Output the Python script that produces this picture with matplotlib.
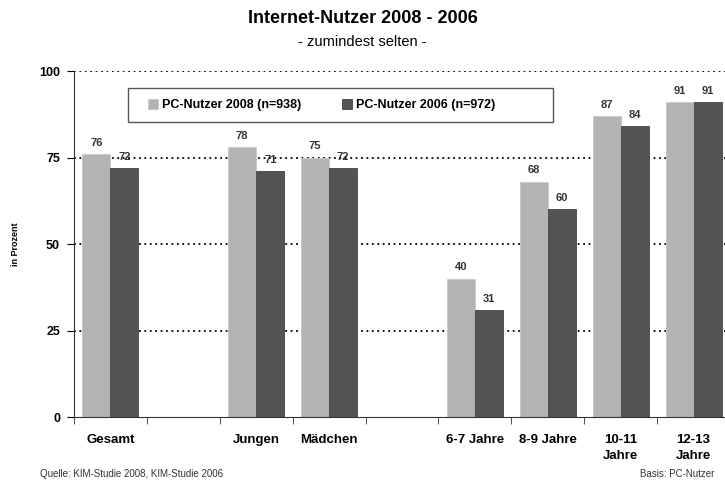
import numpy as np
import matplotlib.pyplot as plt
from matplotlib.patches import Rectangle

plt.rcParams['font.family'] = ['Liberation Sans Narrow', 'Liberation Sans', 'DejaVu Sans']

# leere Einträge = Lücken zwischen den Gruppen
categories = ['Gesamt', '', 'Jungen', 'Mädchen', '', '6-7 Jahre', '8-9 Jahre', '10-11\nJahre', '12-13\nJahre']
nutzer_2008 = [76, np.nan, 78, 75, np.nan, 40, 68, 87, 91]
nutzer_2006 = [72, np.nan, 71, 72, np.nan, 31, 60, 84, 91]
series_labels = ['PC-Nutzer 2008 (n=938)', 'PC-Nutzer 2006 (n=972)']
colors = ['#b3b3b3', '#545454']

fig = plt.figure(figsize=(7.25, 4.83), dpi=100)
ax = fig.add_axes([0.102, 0.1366, 0.905, 0.7164])

x = np.arange(len(categories)) + 0.5
w = 0.385
b1 = ax.bar(x - w / 2, nutzer_2008, w, color=colors[0], edgecolor='#c8c8c8', linewidth=0.6, zorder=2)
b2 = ax.bar(x + w / 2, nutzer_2006, w, color=colors[1], edgecolor='#444444', linewidth=0.6, zorder=2)

for bars, vals in [(b1, nutzer_2008), (b2, nutzer_2006)]:
    for rect, v in zip(bars, vals):
        if np.isnan(v):
            continue
        ax.text(rect.get_x() + rect.get_width() / 2, v + 1.8, str(int(v)),
                ha='center', va='bottom', fontsize=8, fontweight='bold', color='#333333', zorder=3)

ax.set_xlim(0, len(categories))
ax.set_ylim(0, 100)
ax.set_yticks([0, 25, 50, 75, 100])
ax.yaxis.grid(True, linestyle=(0, (1, 2)), color='black', linewidth=1.3, zorder=0)
ax.yaxis.get_gridlines()[0].set_visible(False)
ax.set_axisbelow(True)

ax.set_xticks(x)
ax.set_xticklabels(categories, fontsize=9.5, fontweight='bold', linespacing=1.5)
ax.tick_params(axis='x', length=0, pad=12)
ax.set_xticks(np.arange(len(categories) + 1), minor=True)
ax.tick_params(axis='x', which='minor', length=5, direction='out', color='#333333')
ax.tick_params(axis='y', length=5, labelsize=9, pad=5)
for lab in ax.get_yticklabels():
    lab.set_fontweight('bold')

for s in ['top', 'right']:
    ax.spines[s].set_visible(False)
ax.spines['left'].set_color('#333333')
ax.spines['bottom'].set_color('#333333')
ax.spines['bottom'].set_zorder(4)

ax.set_ylabel('in Prozent', fontsize=6.5, fontweight='bold', labelpad=14)

# Legendenrahmen separat, damit er breiter als der Inhalt sein kann
fig.patches.append(Rectangle((0.1766, 0.747), 0.586, 0.0704, transform=fig.transFigure,
                             facecolor='white', edgecolor='#555555', linewidth=1.0, zorder=5))
leg = fig.legend([b1, b2], series_labels, loc='center left', bbox_to_anchor=(0.204, 0.7826),
                 borderaxespad=0, borderpad=0, ncol=2, frameon=False,
                 prop={'size': 9, 'weight': 'bold'}, handlelength=0.8, handleheight=0.8,
                 handletextpad=0.3, columnspacing=3.3)
leg.set_zorder(6)

fig.text(0.5, 0.962, 'Internet-Nutzer 2008 - 2006', ha='center', va='center', fontsize=13, fontweight='bold')
fig.text(0.5, 0.913, '- zumindest selten -', ha='center', va='center', fontsize=10.5)
fig.text(0.055, 0.012, 'Quelle: KIM-Studie 2008, KIM-Studie 2006', fontsize=7, color='#333333')
fig.text(0.883, 0.012, 'Basis: PC-Nutzer', fontsize=7, color='#333333')

plt.savefig('out.png', dpi=100)
